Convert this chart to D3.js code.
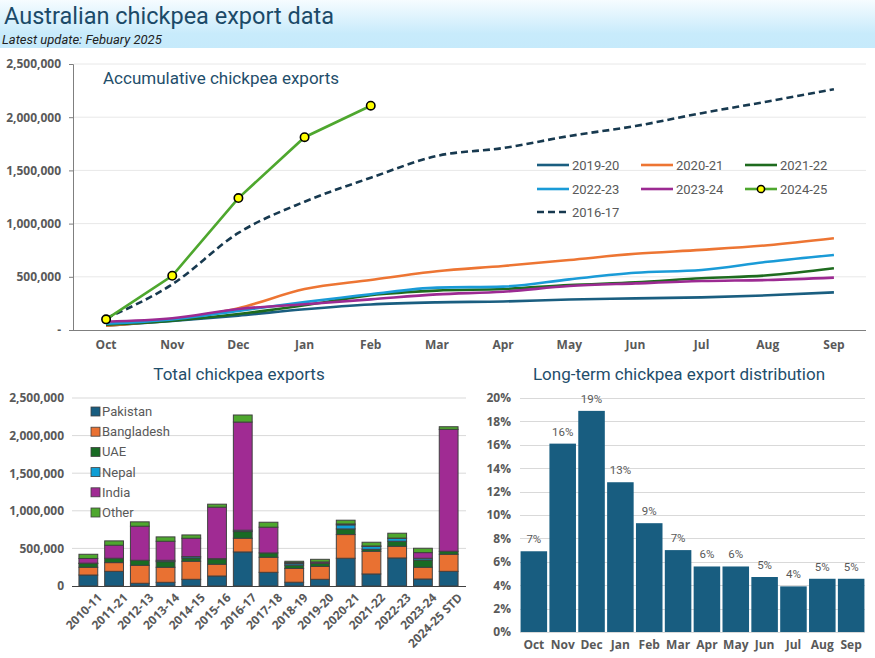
<!DOCTYPE html>
<html>
<head>
<meta charset="utf-8">
<script src="https://cdn.jsdelivr.net/npm/d3@7"></script>
<style>
body { margin: 0; background: #fff; }
text { font-family: Roboto, "Noto Sans", sans-serif; }
.tick-lab { font-family: "Open Sans", "DejaVu Sans", sans-serif; font-weight: 700; font-size: 12px; fill: #595959; }
</style>
</head>
<body>
<div id="vis"></div>
<script>
var w = 875;
var h = 658;

// accumulative exports per month
var months = ["Oct", "Nov", "Dec", "Jan", "Feb", "Mar", "Apr", "May", "Jun", "Jul", "Aug", "Sep"];
var s1920 = [40000, 85000, 135000, 195000, 240000, 260000, 268000, 287000, 297000, 307000, 326000, 354000];
var s2021 = [40000, 100000, 205000, 385000, 470000, 552000, 602000, 658000, 716000, 753000, 797000, 862000];
var s2122 = [50000, 88000, 150000, 232000, 328000, 370000, 385000, 422000, 448000, 486000, 514000, 580000];
var s2223 = [60000, 100000, 180000, 262000, 336000, 398000, 408000, 476000, 538000, 564000, 641000, 705000];
var s2324 = [78000, 110000, 198000, 242000, 288000, 335000, 360000, 413000, 438000, 460000, 470000, 492000];
var s2425 = [100000, 510000, 1240000, 1812000, 2108000];
var s1617 = [110000, 430000, 912000, 1206000, 1431000, 1636000, 1710000, 1823000, 1917000, 2038000, 2148000, 2263000];

var lineNames = ["2019-20", "2020-21", "2021-22", "2022-23", "2023-24", "2024-25", "2016-17"];
var lineColors = ["#1a5e80", "#ed7533", "#1e6b1e", "#1a9bd7", "#9c2a92", "#4ea72e", "#17394f"];

// total exports by destination
var seasons = ["2010-11", "2011-21", "2012-13", "2013-14", "2014-15", "2015-16", "2016-17", "2017-18", "2018-19", "2019-20", "2020-21", "2021-22", "2022-23", "2023-24", "2024-25 STD"];
var destNames = ["Pakistan", "Bangladesh", "UAE", "Nepal", "India", "Other"];
var destColors = ["#185d80", "#e97132", "#196b24", "#0f9ed5", "#a02b93", "#4ea72e"];
var pakistan = [146000, 195000, 36000, 49000, 89000, 133000, 453000, 182000, 50000, 89000, 369000, 160000, 373000, 93000, 195000];
var bangladesh = [103000, 116000, 239000, 200000, 240000, 156000, 182000, 200000, 183000, 171000, 315000, 302000, 155000, 156000, 227000];
var uae = [50000, 58000, 67000, 75000, 44000, 71000, 89000, 58000, 44000, 42000, 75000, 26000, 67000, 97000, 40000];
var nepal = [5000, 0, 0, 18000, 18000, 4000, 18000, 0, 20000, 0, 54000, 40000, 40000, 23000, 0];
var india = [62000, 173000, 453000, 253000, 244000, 684000, 1438000, 342000, 14000, 18000, 12000, 4000, 2000, 75000, 1621000];
var other = [56000, 58000, 58000, 58000, 44000, 40000, 94000, 66000, 18000, 35000, 50000, 50000, 65000, 58000, 35000];

// long-term share per month
var shares = [0.069, 0.161, 0.189, 0.128, 0.093, 0.070, 0.056, 0.056, 0.047, 0.039, 0.0455, 0.0455];

var svg = d3.select("#vis")
    .append("svg")
    .attr("width", w)
    .attr("height", h);

// header band
var grad = svg.append("defs").append("linearGradient")
    .attr("id", "hdr")
    .attr("x1", 0).attr("x2", 0).attr("y1", 0).attr("y2", 1);
grad.append("stop").attr("offset", "0%").attr("stop-color", "#f6fcff");
grad.append("stop").attr("offset", "70%").attr("stop-color", "#c8ebfb");
grad.append("stop").attr("offset", "100%").attr("stop-color", "#c6eafb");

svg.append("rect")
    .attr("x", 0).attr("y", 0)
    .attr("width", w).attr("height", 48)
    .attr("fill", "url(#hdr)");

svg.append("text")
    .text("Australian chickpea export data")
    .attr("x", 4).attr("y", 24)
    .attr("fill", "#1b4a68")
    .style("font-size", "23.5px");

svg.append("text")
    .text("Latest update: Febuary 2025")
    .attr("x", 2).attr("y", 44)
    .attr("fill", "#222")
    .style("font-size", "13px")
    .style("font-style", "italic");

// ---------- top chart ----------
var x1 = d3.scaleBand().domain(months).range([73, 867]);
var y1 = d3.scaleLinear().domain([0, 2500000]).range([330, 64]);
var cx1 = function(m) { return x1(m) + x1.bandwidth() / 2; };

var yAx1 = svg.append("g")
    .attr("transform", "translate(73,0)")
    .call(d3.axisLeft(y1).tickValues([0, 500000, 1000000, 1500000, 2000000, 2500000])
        .tickFormat(function(d) { return d == 0 ? "-" : d3.format(",")(d); })
        .tickSize(4));
yAx1.select(".domain").attr("stroke", "#7f7f7f");
yAx1.selectAll(".tick line").attr("stroke", "#7f7f7f");
yAx1.selectAll(".tick text").attr("class", "tick-lab").attr("x", -12);

svg.append("g").selectAll("line")
    .data([500000, 1000000, 1500000, 2000000, 2500000])
    .enter().append("line")
    .attr("x1", 74).attr("x2", 866)
    .attr("y1", function(d) { return y1(d); })
    .attr("y2", function(d) { return y1(d); })
    .attr("stroke", "#e8e8e8");

var xAx1 = svg.append("g")
    .attr("transform", "translate(0,330)")
    .call(d3.axisBottom(x1).tickSize(0).tickPadding(10));
xAx1.select(".domain").attr("stroke", "#7f7f7f").attr("d", "M69,0.5H866");
xAx1.selectAll(".tick text").attr("class", "tick-lab");

svg.append("text")
    .text("Accumulative chickpea exports")
    .attr("x", 103).attr("y", 84)
    .attr("fill", "#1f4e6b")
    .style("font-size", "17px");

var allLines = [s1920, s2021, s2122, s2223, s2324, s1617, s2425];
var lineIdx = [0, 1, 2, 3, 4, 6, 5];

var smooth = d3.line()
    .x(function(d, i) { return cx1(months[i]); })
    .y(function(d) { return y1(d); })
    .curve(d3.curveMonotoneX);
var straight = d3.line()
    .x(function(d, i) { return cx1(months[i]); })
    .y(function(d) { return y1(d); });

allLines.forEach(function(vals, k) {
    var idx = lineIdx[k];
    svg.append("path")
        .attr("d", idx == 5 ? straight(vals) : smooth(vals))
        .attr("fill", "none")
        .attr("stroke", lineColors[idx])
        .attr("stroke-width", 2.6)
        .attr("stroke-dasharray", idx == 6 ? "7,4" : null);
});

svg.selectAll(".mark25")
    .data(s2425)
    .enter().append("circle")
    .attr("class", "mark25")
    .attr("cx", function(d, i) { return cx1(months[i]); })
    .attr("cy", function(d) { return y1(d); })
    .attr("r", 4.2)
    .attr("fill", "#ffff00")
    .attr("stroke", "#000")
    .attr("stroke-width", 1.6);

// top legend
var legX = [537, 641, 745];
var legY = [165, 189, 212];
lineNames.forEach(function(name, i) {
    var lx = legX[i % 3];
    var ly = legY[Math.floor(i / 3)];
    svg.append("line")
        .attr("x1", lx).attr("x2", lx + 32)
        .attr("y1", ly).attr("y2", ly)
        .attr("stroke", lineColors[i])
        .attr("stroke-width", 2.6)
        .attr("stroke-dasharray", i == 6 ? "7,4" : null);
    if (i == 5) {
        svg.append("circle")
            .attr("cx", lx + 16).attr("cy", ly).attr("r", 3.6)
            .attr("fill", "#ffff00").attr("stroke", "#000").attr("stroke-width", 1.5);
    }
    svg.append("text")
        .text(name)
        .attr("x", lx + 35).attr("y", ly + 5)
        .attr("fill", "#595959")
        .style("font-size", "13px");
});

// ---------- bottom left: stacked bars ----------
var x2 = d3.scaleBand().domain(seasons).range([72, 465]).padding(0.27);
var y2 = d3.scaleLinear().domain([0, 2500000]).range([586, 398]);

var rows = seasons.map(function(s, i) {
    return { season: s, Pakistan: pakistan[i], Bangladesh: bangladesh[i], UAE: uae[i], Nepal: nepal[i], India: india[i], Other: other[i] };
});
var stacked = d3.stack().keys(destNames)(rows);

svg.append("g").selectAll("line")
    .data([500000, 1000000, 1500000, 2000000, 2500000])
    .enter().append("line")
    .attr("x1", 72).attr("x2", 466)
    .attr("y1", function(d) { return y2(d); })
    .attr("y2", function(d) { return y2(d); })
    .attr("stroke", "#d9d9d9");

var yAx2 = svg.append("g")
    .attr("transform", "translate(71,0)")
    .call(d3.axisLeft(y2).tickValues([0, 500000, 1000000, 1500000, 2000000, 2500000])
        .tickFormat(d3.format(","))
        .tickSize(0).tickPadding(7));
yAx2.select(".domain").remove();
yAx2.selectAll(".tick text").attr("class", "tick-lab");

svg.append("g").selectAll("g")
    .data(stacked)
    .enter().append("g")
    .attr("fill", function(d, i) { return destColors[i]; })
    .selectAll("rect")
    .data(function(d) { return d; })
    .enter().append("rect")
    .attr("x", function(d) { return x2(d.data.season); })
    .attr("y", function(d) { return y2(d[1]); })
    .attr("width", x2.bandwidth())
    .attr("height", function(d) { return y2(d[0]) - y2(d[1]); })
    .attr("stroke", "#404040")
    .attr("stroke-width", 1);

var xAx2 = svg.append("g")
    .attr("transform", "translate(0,586)")
    .call(d3.axisBottom(x2).tickSize(0).tickPadding(6));
xAx2.select(".domain").attr("stroke", "#404040").attr("stroke-width", 1.2).attr("d", "M72,0.5H466");
xAx2.selectAll(".tick text")
    .attr("class", "tick-lab")
    .attr("text-anchor", "end")
    .attr("transform", "translate(6,4) rotate(-45)")
    .attr("dy", "0.5em");

svg.append("text")
    .text("Total chickpea exports")
    .attr("x", 239).attr("y", 380)
    .attr("text-anchor", "middle")
    .attr("fill", "#1f4e6b")
    .style("font-size", "17px");

destNames.forEach(function(name, i) {
    svg.append("rect")
        .attr("x", 91).attr("y", 407 + i * 20.2)
        .attr("width", 9).attr("height", 9)
        .attr("fill", destColors[i])
        .attr("stroke", "#404040")
        .attr("stroke-width", 0.8);
    svg.append("text")
        .text(name)
        .attr("x", 102).attr("y", 416 + i * 20.2)
        .attr("fill", "#595959")
        .style("font-size", "13px");
});

// ---------- bottom right: distribution ----------
var x3 = d3.scaleBand().domain(months).range([520, 865]).paddingInner(0.08).paddingOuter(0.02);
var y3 = d3.scaleLinear().domain([0, 0.2]).range([632, 398]);

svg.append("g").selectAll("line")
    .data(d3.range(0.02, 0.201, 0.02))
    .enter().append("line")
    .attr("x1", 520).attr("x2", 865)
    .attr("y1", function(d) { return Math.round(y3(d)) + 0.5; })
    .attr("y2", function(d) { return Math.round(y3(d)) + 0.5; })
    .attr("stroke", "#d9d9d9");

var yAx3 = svg.append("g")
    .attr("transform", "translate(519,0)")
    .call(d3.axisLeft(y3).tickValues(d3.range(0, 0.201, 0.02))
        .tickFormat(d3.format(".0%"))
        .tickSize(0).tickPadding(8));
yAx3.select(".domain").remove();
yAx3.selectAll(".tick text").attr("class", "tick-lab");

svg.append("g").selectAll("rect")
    .data(shares)
    .enter().append("rect")
    .attr("x", function(d, i) { return x3(months[i]); })
    .attr("y", function(d) { return y3(d); })
    .attr("width", x3.bandwidth())
    .attr("height", function(d) { return y3(0) - y3(d); })
    .attr("fill", "#185d80");

svg.append("g").selectAll("text")
    .data(shares)
    .enter().append("text")
    .text(function(d) { return d3.format(".0%")(d); })
    .attr("x", function(d, i) { return x3(months[i]) + x3.bandwidth() / 2; })
    .attr("y", function(d) { return y3(d) - 8; })
    .attr("text-anchor", "middle")
    .attr("fill", "#595959")
    .style("font-size", "11.5px");

var xAx3 = svg.append("g")
    .attr("transform", "translate(0,632)")
    .call(d3.axisBottom(x3).tickSize(0).tickPadding(8));
xAx3.select(".domain").attr("stroke", "#d9d9d9").attr("d", "M520,0.5H865");
xAx3.selectAll(".tick text").attr("class", "tick-lab");

svg.append("text")
    .text("Long-term chickpea export distribution")
    .attr("x", 679).attr("y", 380)
    .attr("text-anchor", "middle")
    .attr("fill", "#1f4e6b")
    .style("font-size", "17px");
</script>
</body>
</html>
